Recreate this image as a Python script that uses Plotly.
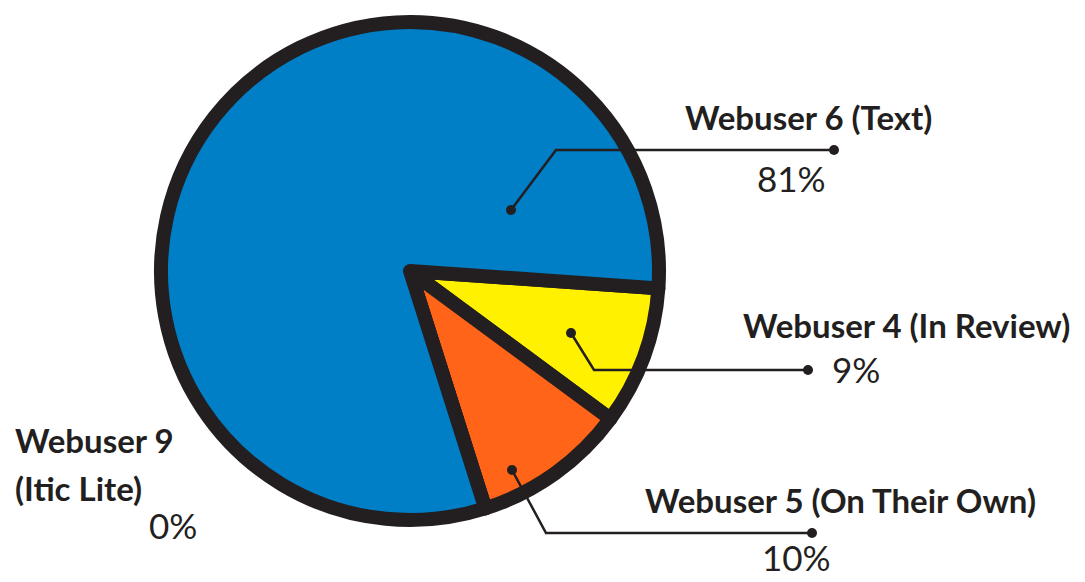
import plotly.graph_objects as go

# slice data (clockwise from just below 3 o'clock)
labels = ['Webuser 4 (In Review)', 'Webuser 5 (On Their Own)', 'Webuser 9 (Itic Lite)', 'Webuser 6 (Text)']
values = [9, 10, 0, 81]
pct_text = ['9%', '10%', '0%', '81%']
colors = ['#fff100', '#ff6418', '#a0a0a0', '#007ec6']

# page has an 8px body margin, so figure is offset by that much
OFF = 8
W, H = 1085 - OFF, 582 - OFF
INK = '#231f20'

def px(x):
    return (x - OFF) / W

def py(y):
    return 1 - (y - OFF) / H

fig = go.Figure()
fig.add_trace(go.Pie(
    labels=labels, values=values, sort=False, direction='clockwise', rotation=94,
    marker=dict(colors=colors, line=dict(color=INK, width=14)),
    textinfo='none', hoverinfo='label+percent', showlegend=False,
    domain=dict(x=[px(410 - 249), px(410 + 249)], y=[py(271 + 249), py(271 - 249)]),
))

# callouts: inner dot, elbow, outer dot, title pos, percent pos (page pixels)
callouts = {
    'Webuser 6 (Text)': dict(pts=[(511, 210), (556, 150), (834, 150)], title=(808, 117), pct=(791, 178)),
    'Webuser 4 (In Review)': dict(pts=[(571, 333), (594, 370), (808, 370)], title=(906, 325), pct=(856, 369)),
    'Webuser 5 (On Their Own)': dict(pts=[(512, 470), (546, 533), (812, 533)], title=(840, 500), pct=(796, 557)),
}

bold = dict(family='Lato', size=33, color=INK, weight='bold')
reg = dict(family='Lato', size=35, color=INK)

shapes = []
annotations = []
for lab, txt in zip(labels, pct_text):
    if lab in callouts:
        c = callouts[lab]
        pts = c['pts']
        path = 'M ' + ' L '.join('%f %f' % (px(x), py(y)) for x, y in pts)
        shapes.append(dict(type='path', path=path, xref='paper', yref='paper',
                           line=dict(color=INK, width=2.5), layer='above'))
        for (x, y) in (pts[0], pts[-1]):
            shapes.append(dict(type='circle', xref='paper', yref='paper', layer='above',
                               x0=px(x - 5), x1=px(x + 5), y0=py(y + 5), y1=py(y - 5),
                               fillcolor=INK, line=dict(width=0)))
        annotations.append(dict(text=lab, x=px(c['title'][0]), y=py(c['title'][1]), xref='paper', yref='paper',
                                showarrow=False, xanchor='center', yanchor='middle', font=bold))
        annotations.append(dict(text=txt, x=px(c['pct'][0]), y=py(c['pct'][1]), xref='paper', yref='paper',
                                showarrow=False, xanchor='center', yanchor='middle', font=reg))
    else:
        first, second = lab.split(' (')
        annotations.append(dict(text=first, x=px(13), y=py(440), xref='paper', yref='paper',
                                showarrow=False, xanchor='left', yanchor='middle', font=bold))
        annotations.append(dict(text='(' + second, x=px(13), y=py(488), xref='paper', yref='paper',
                                showarrow=False, xanchor='left', yanchor='middle', font=bold))
        annotations.append(dict(text=txt, x=px(173), y=py(525), xref='paper', yref='paper',
                                showarrow=False, xanchor='center', yanchor='middle', font=reg))

fig.update_layout(
    width=W, height=H,
    margin=dict(l=0, r=0, t=0, b=0),
    paper_bgcolor='white', plot_bgcolor='white',
    shapes=shapes, annotations=annotations,
)

fig.write_html("out.html")
